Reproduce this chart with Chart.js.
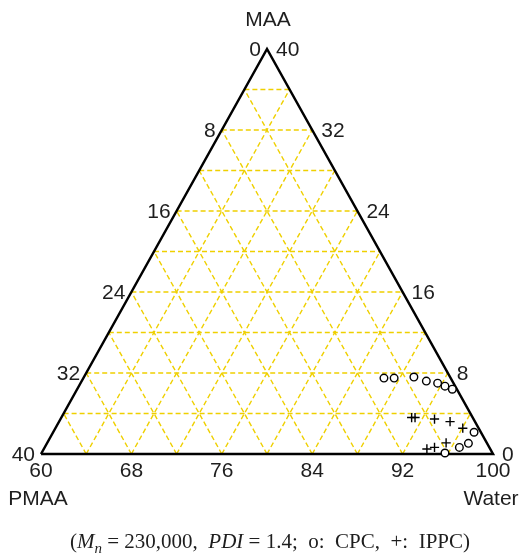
<!DOCTYPE html>
<html>
<head>
<meta charset="utf-8">
<script src="https://cdn.jsdelivr.net/npm/chart.js@4"></script>
<style>
  html, body { margin: 0; background: #fff; }
</style>
</head>
<body>
<canvas id="c" width="526" height="553"></canvas>
<script>
// compositions in wt%, PMAA = 100 - water - MAA
const cpcWater = [86.6, 87.5, 89.2, 90.5, 91.6, 92.4, 93.2, 97.25, 97.3, 96.7, 95.7];
const cpcMAA   = [7.5, 7.5, 7.6, 7.2, 7.0, 6.7, 6.4, 2.15, 1.05, 0.65, 0.1];
const ippcWater = [91.0, 91.3, 93.1, 94.6, 96.05, 95.3, 94.5, 93.9];
const ippcMAA   = [3.6, 3.6, 3.45, 3.2, 2.55, 1.1, 0.65, 0.5];

const gridSteps = [4, 8, 12, 16, 20, 24, 28, 32, 36];
const pmaaTicks = [0, 8, 16, 24, 32, 40];   // left side
const maaTicks = [40, 32, 24, 16, 8, 0];    // right side
const waterTicks = [60, 68, 76, 84, 92, 100]; // bottom

// ternary -> plot coords (x along the base in water units, y = MAA)
function toXY(water, maa) {
  return { x: water - 60 + maa / 2, y: maa };
}

const gridColor = '#efd000';
const textColor = '#1e1e1e';

const datasets = [];

// dashed grid, three families
gridSteps.forEach(k => {
  const lines = [
    [toXY(60, k), toXY(100 - k, k)],          // MAA = k
    [toXY(60 + k, 0), toXY(60 + k, 40 - k)],  // water = 60 + k
    [toXY(100 - k, 0), toXY(60, 40 - k)]      // PMAA = k
  ];
  lines.forEach(pts => {
    datasets.push({
      data: pts,
      showLine: true,
      borderColor: gridColor,
      borderWidth: 1.4,
      borderDash: [5, 3],
      pointRadius: 0,
      order: 3
    });
  });
});

// outline
datasets.push({
  data: [toXY(60, 0), toXY(100, 0), toXY(60, 40), toXY(60, 0)],
  showLine: true,
  borderColor: '#000',
  borderWidth: 2.5,
  pointRadius: 0,
  clip: false,
  order: 2
});

datasets.push({
  label: 'CPC',
  data: cpcWater.map((w, i) => toXY(w, cpcMAA[i])),
  pointStyle: 'circle',
  pointRadius: 3.8,
  borderColor: '#000',
  backgroundColor: '#fff',
  borderWidth: 1.4,
  clip: false,
  order: 1
});

datasets.push({
  label: 'IPPC',
  data: ippcWater.map((w, i) => toXY(w, ippcMAA[i])),
  pointStyle: 'cross',
  pointRadius: 4.6,
  borderColor: '#000',
  borderWidth: 1.4,
  clip: false,
  order: 0
});

// axis numbers, corner names and caption
const ternaryText = {
  id: 'ternaryText',
  afterDraw(chart) {
    const ctx = chart.ctx;
    const sx = chart.scales.x, sy = chart.scales.y;
    const px = p => ({ x: sx.getPixelForValue(p.x), y: sy.getPixelForValue(p.y) });
    ctx.save();
    ctx.fillStyle = textColor;
    ctx.font = '21px "Liberation Sans", Arial, sans-serif';
    ctx.textBaseline = 'middle';

    ctx.textAlign = 'right';
    pmaaTicks.forEach(p => {
      const q = px(toXY(60, 40 - p));
      ctx.fillText(String(p), q.x - 6, q.y + 1);
    });

    ctx.textAlign = 'left';
    maaTicks.forEach(m => {
      const q = px(toXY(100 - m, m));
      ctx.fillText(String(m), q.x + 9, q.y + 1);
    });

    ctx.textAlign = 'center';
    waterTicks.forEach(w => {
      const q = px(toXY(w, 0));
      ctx.fillText(String(w), q.x, q.y + 17);
    });

    const top = px(toXY(60, 40));
    ctx.fillText('MAA', top.x + 1, 20);
    ctx.fillText('PMAA', 38, 499);
    ctx.fillText('Water', 491, 499);

    // caption with italic parts
    const serif = '"Liberation Serif", "Times New Roman", serif';
    const parts = [
      ['(', 'normal', 21, 0],
      ['M', 'italic', 21, 0],
      ['n', 'italic', 15, 5],
      [' = 230,000,  ', 'normal', 21, 0],
      ['PDI', 'italic', 21, 0],
      [' = 1.4;  o:  CPC,  +:  IPPC)', 'normal', 21, 0]
    ];
    let total = 0;
    parts.forEach(p => {
      ctx.font = p[1] + ' ' + p[2] + 'px ' + serif;
      total += ctx.measureText(p[0]).width;
    });
    let x = 270 - total / 2;
    ctx.textAlign = 'left';
    ctx.textBaseline = 'alphabetic';
    parts.forEach(p => {
      ctx.font = p[1] + ' ' + p[2] + 'px ' + serif;
      ctx.fillText(p[0], x, 548 + p[3]);
      x += ctx.measureText(p[0]).width;
    });
    ctx.restore();
  }
};

new Chart(document.getElementById('c'), {
  type: 'scatter',
  data: { datasets },
  options: {
    responsive: false,
    animation: false,
    layout: { padding: { left: 41, right: 33, top: 49, bottom: 99 } },
    plugins: { legend: { display: false }, tooltip: { enabled: false } },
    scales: {
      x: { type: 'linear', min: 0, max: 40, display: false },
      y: { type: 'linear', min: 0, max: 40, display: false }
    }
  },
  plugins: [ternaryText]
});
</script>
</body>
</html>
